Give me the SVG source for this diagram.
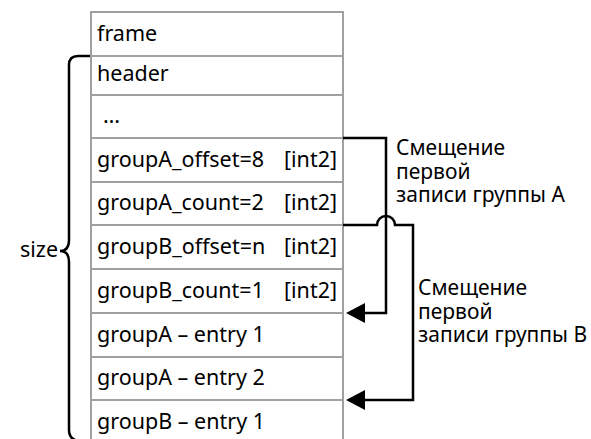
<svg xmlns="http://www.w3.org/2000/svg" width="591" height="439" viewBox="0 0 591 439">
<style>
.cell{fill:#fff;stroke:#a0a0a0;stroke-width:2}
.t{font-family:"Noto Sans","Open Sans",sans-serif;font-size:21.5px;fill:#000}
.l{font-family:"Noto Sans","Open Sans",sans-serif;font-size:21px;fill:#000}
.c{fill:none;stroke:#000;stroke-width:2.5}
</style>
<defs>
<marker id="ah" viewBox="0 0 19 20" refX="12" refY="10" markerWidth="19" markerHeight="20" markerUnits="userSpaceOnUse" orient="auto">
<path d="M0,0 L19,10 L0,20 Z" fill="#000"/>
</marker>
</defs>
<rect width="591" height="439" fill="#fff"/>
<g id="row-frame"><rect class="cell" x="91" y="12" width="252" height="44"/><text class="t" x="97" y="41">frame</text></g>
<g id="row-header"><rect class="cell" x="91" y="56" width="252" height="39"/><text class="t" x="97" y="81">header</text></g>
<g id="row-dots"><rect class="cell" x="91" y="95" width="252" height="43"/><text class="t" x="103" y="123">…</text></g>
<g id="row-groupA-offset"><rect class="cell" x="91" y="138" width="252" height="44"/><text class="t" x="97" y="167">groupA_offset=8</text><text class="t" x="284" y="167">[int2]</text></g>
<g id="row-groupA-count"><rect class="cell" x="91" y="182" width="252" height="43"/><text class="t" x="97" y="210">groupA_count=2</text><text class="t" x="284" y="210">[int2]</text></g>
<g id="row-groupB-offset"><rect class="cell" x="91" y="225" width="252" height="44"/><text class="t" x="97" y="254">groupB_offset=n</text><text class="t" x="284" y="254">[int2]</text></g>
<g id="row-groupB-count"><rect class="cell" x="91" y="269" width="252" height="44"/><text class="t" x="97" y="298">groupB_count=1</text><text class="t" x="284" y="298">[int2]</text></g>
<g id="row-groupA-entry1"><rect class="cell" x="91" y="313" width="252" height="44"/><text class="t" x="97" y="342">groupA – entry 1</text></g>
<g id="row-groupA-entry2"><rect class="cell" x="91" y="357" width="252" height="43"/><text class="t" x="97" y="385">groupA – entry 2</text></g>
<g id="row-groupB-entry1"><rect class="cell" x="91" y="400" width="252" height="44"/><text class="t" x="97" y="429">groupB – entry 1</text></g>
<g id="size-brace">
<path class="c" d="M90,56 H78 Q69,56 69,65 V240 Q69,251 60,251 Q69,251 69,262 V430 Q69,439 78,441"/>
<text class="t" x="20" y="257">size</text>
</g>
<g id="label-A"><text class="l" x="396" y="155">Смещение</text><text class="l" x="396" y="178.5">первой</text><text class="l" x="396" y="202">записи группы А</text></g>
<g id="label-B"><text class="l" x="418" y="295">Смещение</text><text class="l" x="418" y="318.5">первой</text><text class="l" x="418" y="342">записи группы В</text></g>
<g id="connectors">
<path class="c" d="M343,138 H386 V313 H353" marker-end="url(#ah)"/>
<path class="c" d="M343,225 H377 A9,9 0 0 1 395,225 H413 V400 H353" marker-end="url(#ah)"/>
</g>
</svg>
